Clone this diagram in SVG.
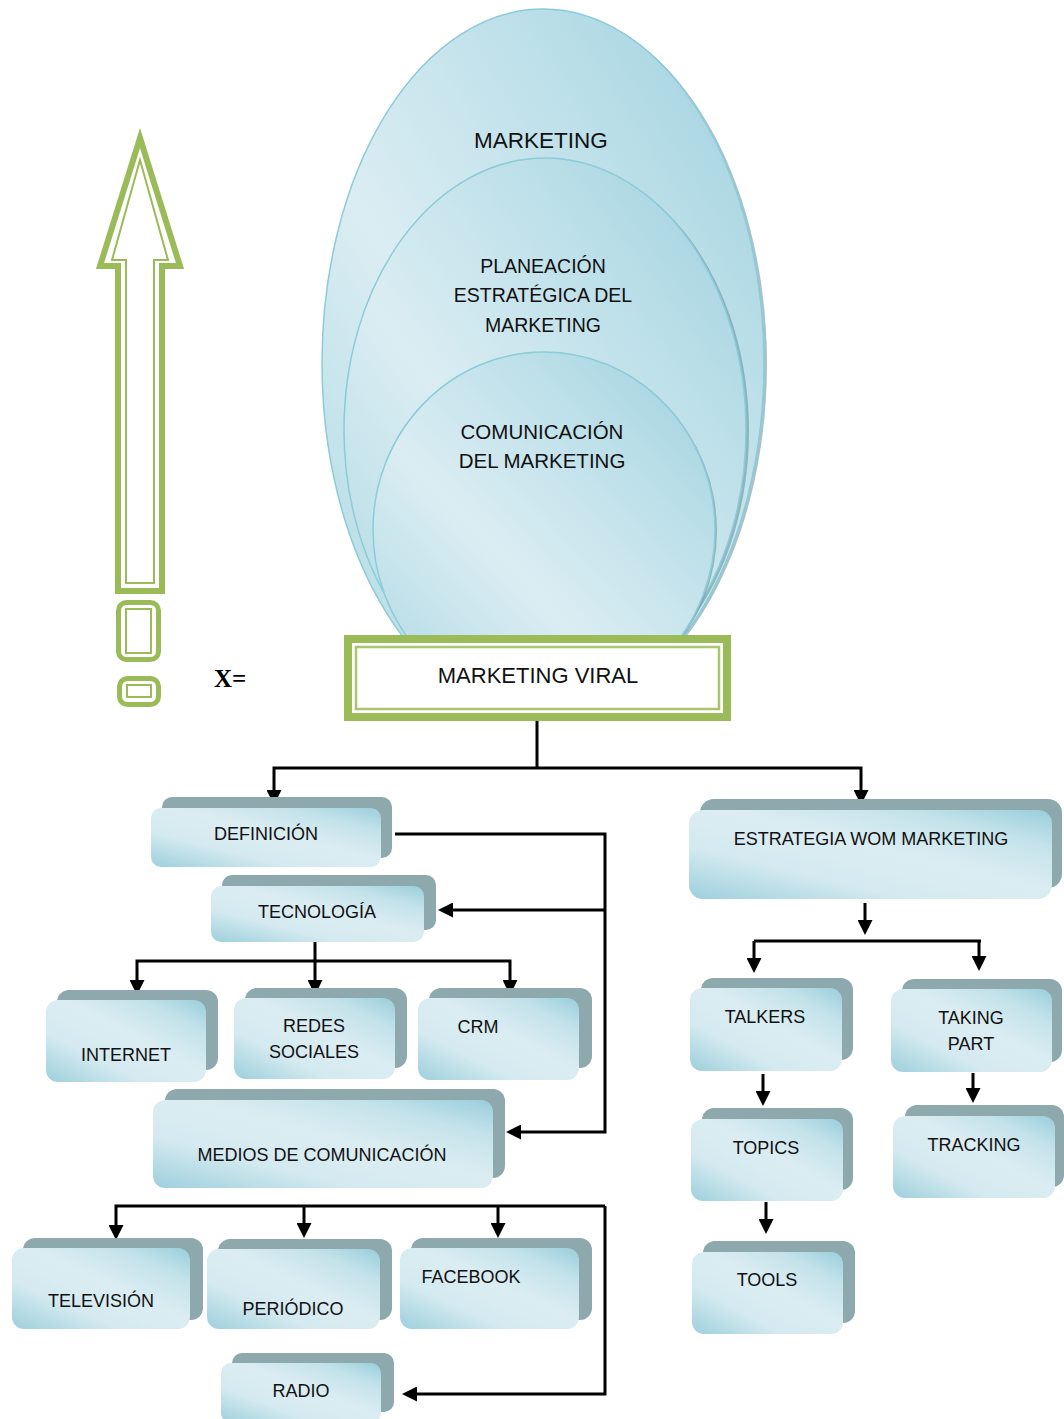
<svg xmlns="http://www.w3.org/2000/svg" width="1064" height="1419" viewBox="0 0 1064 1419">
<defs>
<linearGradient id="bg" x1="0" y1="1" x2="1" y2="0">
<stop offset="0" stop-color="#9dcfdc"/>
<stop offset="0.3" stop-color="#d4eaf0"/>
<stop offset="0.55" stop-color="#dbedf2"/>
<stop offset="0.8" stop-color="#c3e2ea"/>
<stop offset="1" stop-color="#98cedb"/>
</linearGradient>
<linearGradient id="eg" x1="0" y1="1" x2="1" y2="0">
<stop offset="0" stop-color="#acd8e3"/>
<stop offset="0.4" stop-color="#dbedf3"/>
<stop offset="0.75" stop-color="#b9dee8"/>
<stop offset="1" stop-color="#9ccfdc"/>
</linearGradient>
<marker id="ah" markerUnits="userSpaceOnUse" markerWidth="15" markerHeight="15" refX="4" refY="7.5" orient="auto">
<path d="M0,0 L15,7.5 L0,15 z" fill="#000"/>
</marker>
<style>
.back{fill:#8ea9ae}
.front{fill:url(#bg)}
.t{font-family:"Liberation Sans",Arial,sans-serif;font-size:18px;fill:#111;text-anchor:middle}
.et{font-family:"Liberation Sans",Arial,sans-serif;font-size:19.5px;fill:#111;text-anchor:middle}
.et.big{font-size:22.5px}
.et.mid{font-size:20.5px}
.c{fill:none;stroke:#000;stroke-width:3;marker-end:url(#ah)}
.cn{fill:none;stroke:#000;stroke-width:3}
.ell{fill:url(#eg);stroke:#8ccbd8;stroke-width:1.5}
.sh{fill:#5f8f9a;opacity:0.55}
.g{fill:none;stroke:#9bbb59}
</style>
</defs>

<g id="exclamation">
<polygon class="g" stroke-width="6" points="140,138 180,266 162,266 162,591 118,591 118,266 100,266"/>
<polygon class="g" stroke-width="2" points="140,160 168,260 154,260 154,583 126,583 126,260 112,260"/>
<rect class="g" stroke-width="5" x="118.5" y="602.5" width="40" height="57" rx="8"/>
<rect class="g" stroke-width="2" x="126" y="609" width="25" height="44"/>
<rect class="g" stroke-width="5" x="119.5" y="678.5" width="39" height="26" rx="8"/>
<rect class="g" stroke-width="2" x="127" y="685" width="24" height="12"/>
</g>

<g id="x-eq">
<text x="214" y="687" font-family="Liberation Serif, serif" font-weight="bold" font-size="25" fill="#000">X=</text>
</g>

<g id="marketing">
<ellipse class="sh" cx="546" cy="364" rx="221" ry="353"/>
<ellipse class="ell" cx="543" cy="363" rx="221" ry="354"/>
<text class="et big" x="541" y="148">MARKETING</text>
</g>
<g id="planeacion">
<ellipse class="sh" cx="548" cy="431" rx="201" ry="271"/>
<ellipse class="ell" cx="545" cy="430" rx="201" ry="272"/>
<text class="et" x="543" y="273">PLANEACIÓN</text>
<text class="et" x="543" y="302">ESTRATÉGICA DEL</text>
<text class="et" x="543" y="332">MARKETING</text>
</g>
<g id="comunicacion">
<ellipse class="sh" cx="546" cy="531" rx="171" ry="177"/>
<ellipse class="ell" cx="544" cy="530" rx="171" ry="178"/>
<text class="et mid" x="542" y="439">COMUNICACIÓN</text>
<text class="et mid" x="542" y="468">DEL MARKETING</text>
</g>

<g id="viral">
<rect x="348" y="639" width="379" height="78" fill="#fff" stroke="#9bbb59" stroke-width="8"/>
<rect x="356" y="647" width="363" height="62" fill="#fff" stroke="#a9c56e" stroke-width="2.5"/>
<text x="538" y="683" font-family="Liberation Sans, Arial, sans-serif" font-size="22" fill="#111" text-anchor="middle">MARKETING VIRAL</text>
</g>

<g id="connectors">
<path class="cn" d="M537,721 V768"/>
<path class="c" d="M537,768 H274 V794"/>
<path class="c" d="M537,768 H861 V794"/>
<path class="c" d="M395,834 H605 V1132 H517"/>
<path class="c" d="M605,910 H449"/>
<path class="c" d="M315,942 V984"/>
<path class="c" d="M315,961 H137 V984"/>
<path class="c" d="M315,961 H510 V984"/>
<path class="c" d="M605,1206 H116 V1229"/>
<path class="c" d="M304,1206 V1227"/>
<path class="c" d="M498,1206 V1227"/>
<path class="c" d="M605,1206 V1394 H413"/>
<path class="c" d="M865,903 V924"/>
<path class="cn" d="M754,941 H981"/>
<path class="c" d="M754,941 V962"/>
<path class="c" d="M979,941 V960"/>
<path class="c" d="M763,1074 V1095"/>
<path class="c" d="M766,1202 V1223"/>
<path class="c" d="M973,1073 V1092"/>
</g>

<g id="definicion">
<rect class="back" x="162" y="797" width="230" height="61" rx="10"/>
<rect class="front" x="151" y="808" width="230" height="59" rx="10"/>
<text class="t" x="266" y="840">DEFINICIÓN</text>
</g>
<g id="tecnologia">
<rect class="back" x="222" y="875" width="214" height="55" rx="10"/>
<rect class="front" x="211" y="886" width="213" height="56" rx="10"/>
<text class="t" x="317" y="918">TECNOLOGÍA</text>
</g>
<g id="internet">
<rect class="back" x="57" y="990" width="161" height="80" rx="12"/>
<rect class="front" x="46" y="1000" width="160" height="82" rx="12"/>
<text class="t" x="126" y="1061">INTERNET</text>
</g>
<g id="redes">
<rect class="back" x="245" y="988" width="162" height="80" rx="12"/>
<rect class="front" x="234" y="998" width="161" height="81" rx="12"/>
<text class="t" x="314" y="1032">REDES</text>
<text class="t" x="314" y="1058">SOCIALES</text>
</g>
<g id="crm">
<rect class="back" x="429" y="988" width="163" height="80" rx="12"/>
<rect class="front" x="418" y="998" width="161" height="82" rx="12"/>
<text class="t" x="478" y="1033">CRM</text>
</g>
<g id="medios">
<rect class="back" x="165" y="1089" width="340" height="89" rx="12"/>
<rect class="front" x="153" y="1100" width="340" height="88" rx="12"/>
<text class="t" x="322" y="1161">MEDIOS DE COMUNICACIÓN</text>
</g>
<g id="television">
<rect class="back" x="23" y="1238" width="180" height="82" rx="12"/>
<rect class="front" x="12" y="1248" width="178" height="81" rx="12"/>
<text class="t" x="101" y="1307">TELEVISIÓN</text>
</g>
<g id="periodico">
<rect class="back" x="218" y="1239" width="174" height="81" rx="12"/>
<rect class="front" x="207" y="1249" width="173" height="80" rx="12"/>
<text class="t" x="293" y="1315">PERIÓDICO</text>
</g>
<g id="facebook">
<rect class="back" x="411" y="1238" width="181" height="82" rx="12"/>
<rect class="front" x="400" y="1248" width="179" height="81" rx="12"/>
<text class="t" x="471" y="1283">FACEBOOK</text>
</g>
<g id="radio">
<rect class="back" x="232" y="1353" width="162" height="59" rx="10"/>
<rect class="front" x="221" y="1363" width="160" height="60" rx="10"/>
<text class="t" x="301" y="1397">RADIO</text>
</g>

<g id="wom">
<rect class="back" x="700" y="799" width="362" height="89" rx="14"/>
<rect class="front" x="689" y="810" width="363" height="89" rx="14"/>
<text class="t" x="871" y="845">ESTRATEGIA WOM MARKETING</text>
</g>
<g id="talkers">
<rect class="back" x="701" y="978" width="152" height="82" rx="12"/>
<rect class="front" x="690" y="988" width="152" height="83" rx="12"/>
<text class="t" x="765" y="1023">TALKERS</text>
</g>
<g id="taking">
<rect class="back" x="902" y="979" width="160" height="83" rx="12"/>
<rect class="front" x="891" y="989" width="161" height="83" rx="12"/>
<text class="t" x="971" y="1024">TAKING</text>
<text class="t" x="971" y="1050">PART</text>
</g>
<g id="topics">
<rect class="back" x="702" y="1108" width="151" height="82" rx="12"/>
<rect class="front" x="691" y="1119" width="152" height="82" rx="12"/>
<text class="t" x="766" y="1154">TOPICS</text>
</g>
<g id="tools">
<rect class="back" x="703" y="1241" width="152" height="82" rx="12"/>
<rect class="front" x="692" y="1252" width="151" height="82" rx="12"/>
<text class="t" x="767" y="1286">TOOLS</text>
</g>
<g id="tracking">
<rect class="back" x="905" y="1105" width="159" height="82" rx="12"/>
<rect class="front" x="893" y="1116" width="162" height="82" rx="12"/>
<text class="t" x="974" y="1151">TRACKING</text>
</g>
</svg>
